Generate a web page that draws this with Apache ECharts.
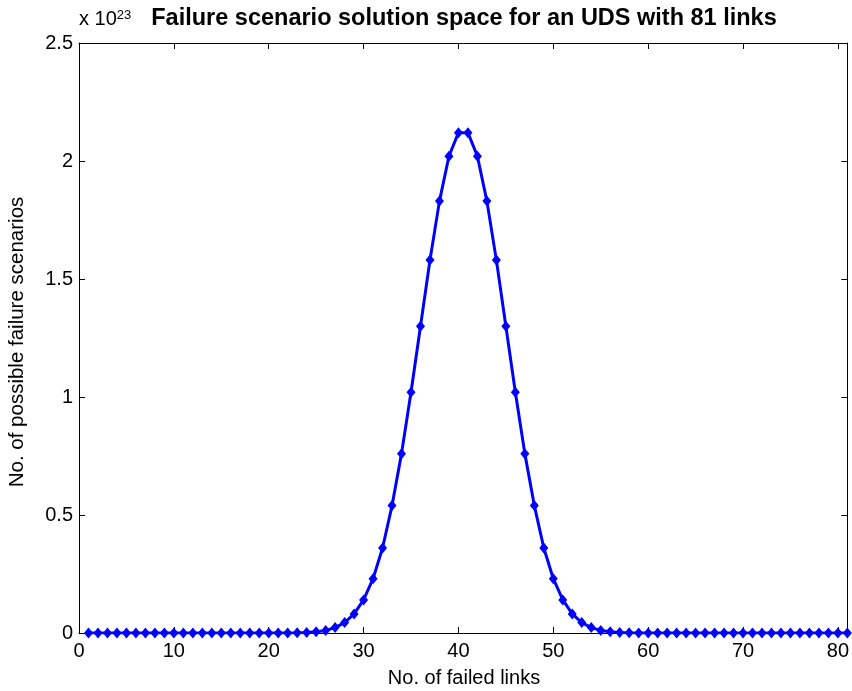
<!DOCTYPE html>
<html>
<head>
<meta charset="utf-8">
<script src="https://cdn.jsdelivr.net/npm/echarts@6/dist/echarts.min.js"></script>
<style>html,body{margin:0;padding:0;background:#fff}#c{width:852px;height:691px}</style>
</head>
<body>
<div id="c"></div>
<script>
var title = 'Failure scenario solution space for an UDS with 81 links';
var xLabel = 'No. of failed links';
var yLabel = 'No. of possible failure scenarios';
var xTicks = [0, 10, 20, 30, 40, 50, 60, 70, 80];
var yTicks = [0, 0.5, 1, 1.5, 2, 2.5];
var failedLinks = [1,2,3,4,5,6,7,8,9,10,11,12,13,14,15,16,17,18,19,20,
  21,22,23,24,25,26,27,28,29,30,31,32,33,34,35,36,37,38,39,40,
  41,42,43,44,45,46,47,48,49,50,51,52,53,54,55,56,57,58,59,60,
  61,62,63,64,65,66,67,68,69,70,71,72,73,74,75,76,77,78,79,80,81];
// values in units of 1e23
var scenarios = [0,0,0,0,0,0,0,0,0,0,0,0,0,0,0,0,0,0,0,0,
  0.00015,0.0004,0.001,0.0023,0.0052,0.011,0.023,0.044,0.081,0.14,
  0.23,0.36,0.54,0.76,1.02,1.30,1.58,1.83,2.02,2.12,
  2.12,2.02,1.83,1.58,1.30,1.02,0.76,0.54,0.36,0.23,
  0.14,0.081,0.044,0.023,0.011,0.0052,0.0023,0.001,0.0004,0.00015,
  0,0,0,0,0,0,0,0,0,0,0,0,0,0,0,0,0,0,0,0,0];

var data = failedLinks.map(function(x, i){ return [x, scenarios[i]]; });
var font = 'Liberation Sans, Arial, sans-serif';
var chart = echarts.init(document.getElementById('c'), null, {renderer:'canvas'});
var axisCommon = {
  axisLine:{show:true, onZero:false, lineStyle:{color:'#000', width:1}},
  axisTick:{show:true, inside:true, length:6, lineStyle:{color:'#000'}},
  splitLine:{show:false}
};
chart.setOption({
  animation:false,
  backgroundColor:'#fff',
  grid:{left:79, right:3, top:43, bottom:58},
  xAxis:[
    Object.assign({type:'value', min:0, max:81, interval:10, position:'bottom',
      axisLabel:{show:true, color:'#000', fontSize:20, fontFamily:font, margin:8, showMaxLabel:false,
        formatter:function(v){ return xTicks.indexOf(v) >= 0 ? String(v) : ''; }}}, axisCommon),
    Object.assign({type:'value', min:0, max:81, interval:10, position:'top',
      axisLabel:{show:false}}, axisCommon)
  ],
  yAxis:[
    Object.assign({type:'value', min:0, max:2.5, interval:0.5, position:'left',
      axisLabel:{show:true, color:'#000', fontSize:20, fontFamily:font, margin:6,
        formatter:function(v){ return yTicks.indexOf(v) >= 0 ? String(v) : ''; }}}, axisCommon),
    Object.assign({type:'value', min:0, max:2.5, interval:0.5, position:'right',
      axisLabel:{show:false}}, axisCommon)
  ],
  series:[{
    type:'line', data:data, xAxisIndex:0, yAxisIndex:0,
    symbol:'diamond', symbolSize:[9,11], showAllSymbol:true,
    lineStyle:{color:'#0000ff', width:3},
    itemStyle:{color:'#0000ff', borderWidth:0},
    z:5
  }],
  graphic:[
    {type:'text', x:464, y:19, style:{text:title, font:'bold 23.5px '+font, fill:'#000', align:'center', verticalAlign:'middle'}},
    {type:'text', x:79, y:9, style:{rich:{b:{font:'20px '+font, fill:'#000'}, s:{font:'13px '+font, fill:'#000', verticalAlign:'top'}},
      text:'{b|x 10}{s|23}'}},
    {type:'text', x:464, y:668, style:{text:xLabel, font:'20px '+font, fill:'#000', align:'center', verticalAlign:'top'}},
    {type:'text', x:17, y:342, rotation:Math.PI/2, style:{text:yLabel, font:'20.5px '+font, fill:'#000', align:'center', verticalAlign:'middle'}}
  ]
});
</script>
</body>
</html>
